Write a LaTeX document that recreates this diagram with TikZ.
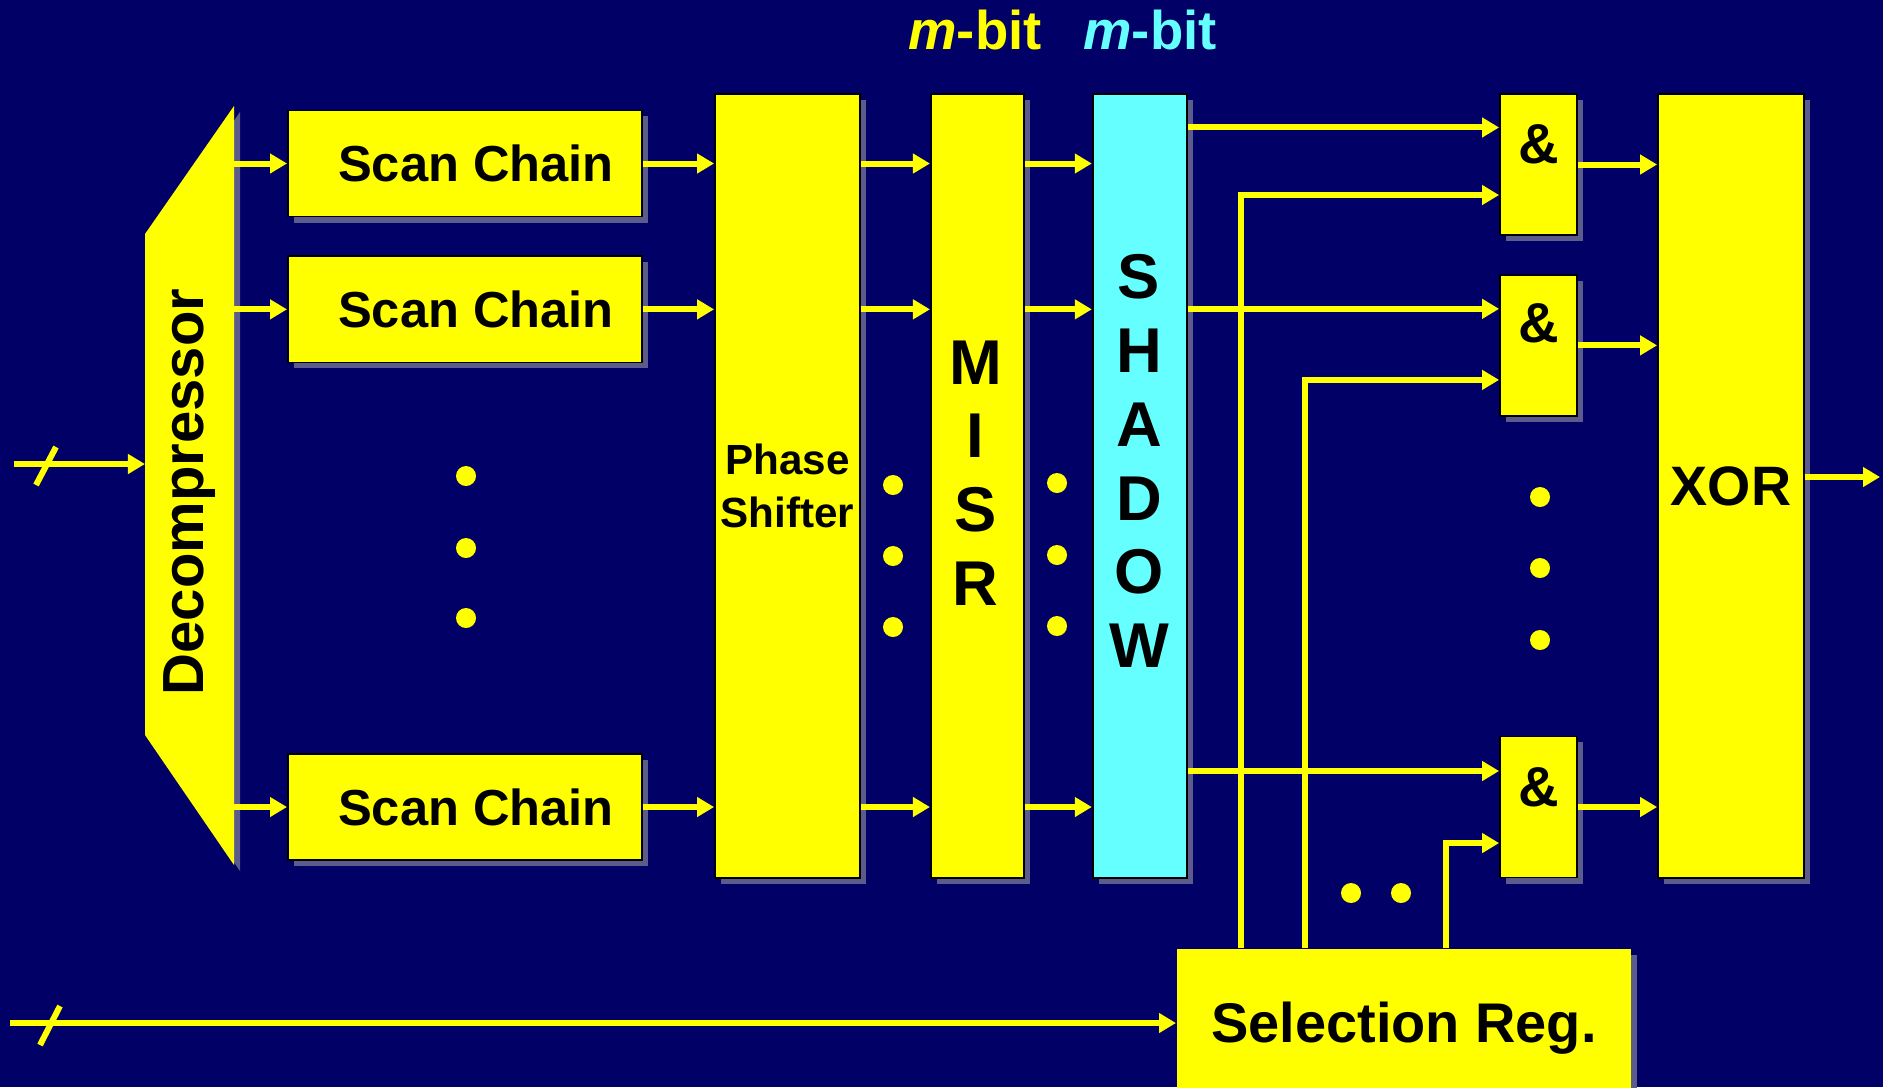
\documentclass[tikz,border=0pt]{standalone}
\usepackage{fontspec}
\setmainfont{Liberation Sans}
\usepackage{xcolor}
\usetikzlibrary{arrows.meta,positioning,calc,shadows}
\definecolor{navy}{RGB}{0,0,102}
\definecolor{ylw}{RGB}{255,255,0}
\definecolor{cyn}{RGB}{102,255,255}
\definecolor{shadowc}{RGB}{92,92,140}

\begin{document}
\begin{tikzpicture}[
    x=0.01cm, y=-0.01cm,
    block/.style={rectangle, draw=black, line width=0.5pt, fill=ylw, inner sep=0pt, align=center,
        drop shadow={shadow xshift=0.06cm, shadow yshift=-0.06cm, fill=shadowc, opacity=1}},
    tall/.style={block, minimum width=#1, minimum height=7.84cm},
    chain/.style={block, minimum width=3.54cm, minimum height=1.06cm, font=\fontsize{14.4}{17}\selectfont\bfseries},
    gate/.style={block, minimum width=0.77cm, minimum height=1.41cm},
    gatetext/.style={font=\fontsize{16}{19}\selectfont\bfseries},
    stack/.style={align=center, font=\fontsize{18}{21}\selectfont\bfseries},
    arrow/.style={-{Triangle[length=0.17cm, width=0.19cm]}, draw=ylw, line width=0.06cm},
    wire/.style={draw=ylw, line width=0.06cm},
    dot/.style={fill=ylw}
]
\fill[navy] (0,0) rectangle (1883,1087);
\useasboundingbox (0,0) rectangle (1883,1087);

\fill[shadowc] (240,112) -- (151,240) -- (151,741) -- (240,871) -- cycle;
\fill[ylw] (234,106) -- (145,234) -- (145,735) -- (234,865) -- cycle;
\node[rotate=90, font=\fontsize{16.5}{20}\selectfont\bfseries] (decomp) at (190,492) {Decompressor};
\coordinate (dcout) at (234,486);
\coordinate (dcin) at (145,464);
\coordinate (datain) at (14,464);

\node[chain] (sc1) at (465,163.5) {\hspace*{0.22cm}Scan Chain};
\node[chain, below=0.38cm of sc1] (sc2) {\hspace*{0.22cm}Scan Chain};
\node[chain] (sc3) at (465,807) {\hspace*{0.22cm}Scan Chain};

\node[tall=1.45cm, font=\fontsize{12}{14.9}\selectfont\bfseries] (ps) at (787.5,486) {Phase\\Shifter};
\node[tall=0.93cm, right=0.69cm of ps] (misr) {};
\node[stack] (misrtxt) at (975.5,473) {M\\I\\S\\R};
\node[tall=0.94cm, fill=cyn, right=0.67cm of misr] (shd) {};
\node[stack] (shdtxt) at (1139,461) {S\\H\\A\\D\\O\\W};

\node[font=\fontsize{15.5}{18}\selectfont\bfseries, text=ylw] (mbit1) at (975,30) {\textit{m}-bit};
\node[font=\fontsize{15.5}{18}\selectfont\bfseries, text=cyn] (mbit2) at (1150,30) {\textit{m}-bit};

\node[gate] (and1) at (1538.5,164.5) {};
\node[gate, below=0.38cm of and1] (and2) {};
\node[gate] (and3) at (1538.5,807) {};
\node[gatetext] (and1txt) at (1538.5,144) {\&};
\node[gatetext] (and2txt) at (1538.5,323) {\&};
\node[gatetext] (and3txt) at (1538.5,787) {\&};

\node[tall=1.46cm, font=\fontsize{15.8}{19}\selectfont\bfseries] (xor) at (1731,486) {XOR};
\node[block, draw=none, minimum width=4.54cm, minimum height=1.58cm, font=\fontsize{15.9}{19}\selectfont\bfseries] (selreg) at (1404,1028) {Selection Reg.};

\coordinate (a1t) at ([yshift=0.37cm]and1.west);
\coordinate (a2t) at ([yshift=0.365cm]and2.west);
\coordinate (a3t) at ([yshift=0.36cm]and3.west);
\coordinate (a1b) at ([yshift=-0.305cm]and1.west);
\coordinate (a2b) at ([yshift=-0.345cm]and2.west);
\coordinate (a3b) at ([yshift=-0.36cm]and3.west);
\coordinate (s1) at ([xshift=-1.63cm]selreg.north);
\coordinate (s2) at ([xshift=-0.99cm]selreg.north);
\coordinate (s3) at ([xshift=0.42cm]selreg.north);
\coordinate (xorout) at (1880,477);
\coordinate (selin) at (10,1023);

\draw[arrow] (datain) -- (dcin);
\draw[wire] (36,485) -- (56,447);
\draw[arrow] (selin) -- (selin -| selreg.west);
\draw[wire] (40,1045) -- (60,1006);

\foreach \s in {sc1,sc2,sc3} {
    \draw[arrow] (dcout |- \s.west) -- (\s.west);
    \draw[arrow] (\s.east) -- (\s.east -| ps.west);
    \draw[arrow] (ps.east |- \s.west) -- (misr.west |- \s.west);
    \draw[arrow] (misr.east |- \s.west) -- (shd.west |- \s.west);
}
\foreach \a in {1,2,3} {
    \draw[arrow] (shd.east |- a\a t) -- (a\a t);
    \draw[arrow] (s\a) |- (a\a b);
    \draw[arrow] (and\a.east) -- (and\a.east -| xor.west);
}
\draw[arrow] (xor.east |- xorout) -- (xorout);

\foreach \y in {476,548,618} \fill[dot] (466,\y) circle[radius=0.1cm];
\foreach \y in {485,556,627} \fill[dot] (893,\y) circle[radius=0.1cm];
\foreach \y in {483,555,626} \fill[dot] (1057,\y) circle[radius=0.1cm];
\foreach \y in {497,568,640} \fill[dot] (1540,\y) circle[radius=0.1cm];
\foreach \x in {1351,1401} \fill[dot] (\x,893) circle[radius=0.1cm];
\end{tikzpicture}
\end{document}
